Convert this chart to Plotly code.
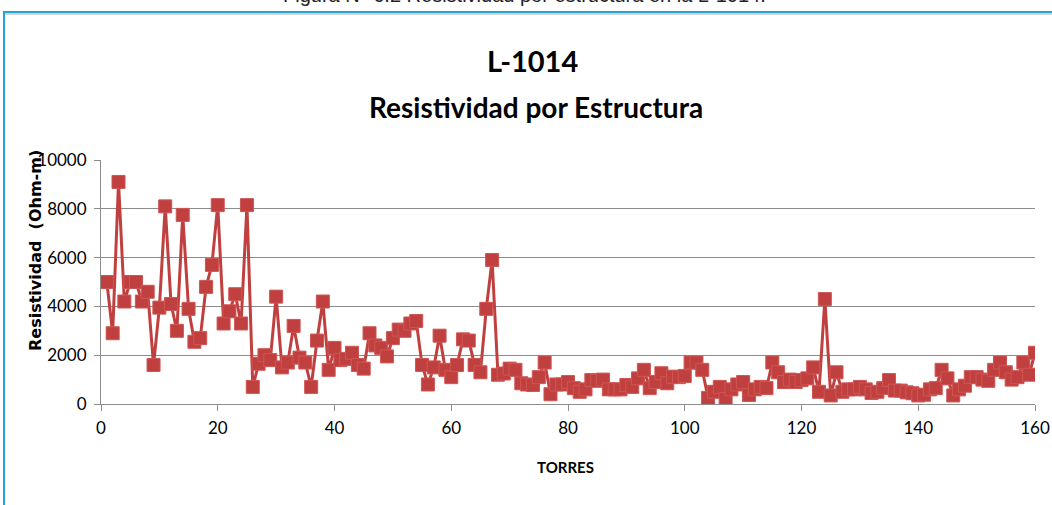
import plotly.graph_objects as go

torres = list(range(1, 161))
resistividad = [
    5000, 2900, 9100, 4200, 5000, 5000, 4200, 4600, 1600, 3950,
    8100, 4100, 3000, 7750, 3900, 2550, 2700, 4800, 5700, 8150,
    3300, 3800, 4500, 3300, 8150, 700, 1650, 2000, 1800, 4400,
    1500, 1700, 3200, 1900, 1700, 700, 2600, 4200, 1400, 2300,
    1800, 1850, 2100, 1600, 1450, 2900, 2400, 2300, 1950, 2700,
    3050, 3000, 3300, 3400, 1600, 800, 1500, 2800, 1400, 1100,
    1600, 2650, 2600, 1600, 1300, 3900, 5900, 1200, 1250, 1450,
    1400, 850, 800, 780, 1100, 1700, 400, 800, 800, 900,
    650, 500, 600, 980, 950, 1000, 600, 600, 600, 780,
    700, 1050, 1400, 650, 900, 1260, 850, 1120, 1100, 1150,
    1700, 1700, 1400, 250, 500, 700, 200, 600, 800, 900,
    370, 600, 700, 650, 1700, 1300, 900, 1000, 900, 980,
    1050, 1500, 500, 4300, 350, 1300, 500, 600, 600, 700,
    600, 450, 500, 650, 980, 550, 550, 480, 440, 350,
    380, 600, 650, 1400, 1050, 350, 600, 750, 1100, 1100,
    1000, 950, 1400, 1700, 1300, 1000, 1100, 1700, 1200, 2100,
]

x_ticks = [0, 20, 40, 60, 80, 100, 120, 140, 160]
y_ticks = [0, 2000, 4000, 6000, 8000, 10000]
y_labels = [str(v) for v in y_ticks]

rojo = "#C0403F"
fuente = "Lato, Roboto, sans-serif"

# area de trazado: x 101..1035 px, y 160..404 px
W, H = 1052, 505
L, T = 101, 160
R, B = W - 1035, H - 404
pw, ph = W - L - R, H - T - B


def px(x):
    return (x - L) / pw


def py(y):
    return (H - B - y) / ph


fig = go.Figure()
fig.add_trace(go.Scatter(
    x=torres,
    y=resistividad,
    mode="lines+markers",
    line=dict(color=rojo, width=3),
    marker=dict(symbol="square", size=13, color=rojo,
                line=dict(color="#CF5553", width=1)),
    showlegend=False,
))

fig.update_xaxes(
    range=[0, 160], tickvals=x_ticks, automargin=False,
    showgrid=False, zeroline=False,
    showline=True, linecolor="#8C8C8C", linewidth=1,
    ticks="outside", ticklen=6, tickcolor="#8C8C8C", ticklabelstandoff=3,
    tickfont=dict(family=fuente, size=17, color="#000"),
)
fig.update_yaxes(
    range=[0, 10000], tickvals=y_ticks, ticktext=y_labels, automargin=False,
    showgrid=True, gridcolor="#8C8C8C", gridwidth=1, zeroline=False,
    showline=True, linecolor="#8C8C8C", linewidth=1,
    ticks="outside", ticklen=6, tickcolor="#8C8C8C", ticklabelstandoff=4,
    tickfont=dict(family=fuente, size=17, color="#000"),
)

fig.update_layout(
    width=W, height=H,
    margin=dict(l=L, r=R, t=T, b=B),
    paper_bgcolor="white", plot_bgcolor="white",
    shapes=[
        dict(type="rect", xref="paper", yref="paper",
             x0=px(4), x1=px(1070), y0=py(12), y1=py(530),
             line=dict(color="#23A3DA", width=2), fillcolor="rgba(0,0,0,0)",
             layer="below"),
        dict(type="line", xref="paper", yref="paper",
             x0=px(5), x1=px(1060), y0=py(14), y1=py(14),
             line=dict(color="#A8A8A8", width=1), layer="below"),
    ],
    annotations=[
        dict(text="Figura N° 6.2 Resistividad por estructura en la L-1014.",
             xref="paper", yref="paper", x=px(524), y=py(8),
             xanchor="center", yanchor="bottom", showarrow=False,
             font=dict(family="Liberation Sans, Arial, sans-serif", size=20, color="#222")),
        dict(text="<b>L-1014</b>", xref="paper", yref="paper",
             x=px(532), y=py(60), xanchor="center", yanchor="middle", showarrow=False,
             font=dict(family=fuente, size=29, color="#000")),
        dict(text="<b>Resistividad por Estructura</b>", xref="paper", yref="paper",
             x=px(536), y=py(107), xanchor="center", yanchor="middle", showarrow=False,
             font=dict(family=fuente, size=28, color="#000")),
        dict(text="<b>Resistividad  (Ohm-m)</b>", xref="paper", yref="paper",
             x=px(35), y=py(251), xanchor="center", yanchor="middle", showarrow=False,
             textangle=-90,
             font=dict(family="DejaVu Sans", size=16, color="#000")),
        dict(text="<b>TORRES</b>", xref="paper", yref="paper",
             x=px(565), y=py(467), xanchor="center", yanchor="middle", showarrow=False,
             font=dict(family=fuente, size=15, color="#000")),
    ],
)

# sin el margen por defecto del body, la figura ocupa la ventana entera
fig.write_html("out.html", config={"displayModeBar": False},
               post_script="document.body.style.margin='0';")
